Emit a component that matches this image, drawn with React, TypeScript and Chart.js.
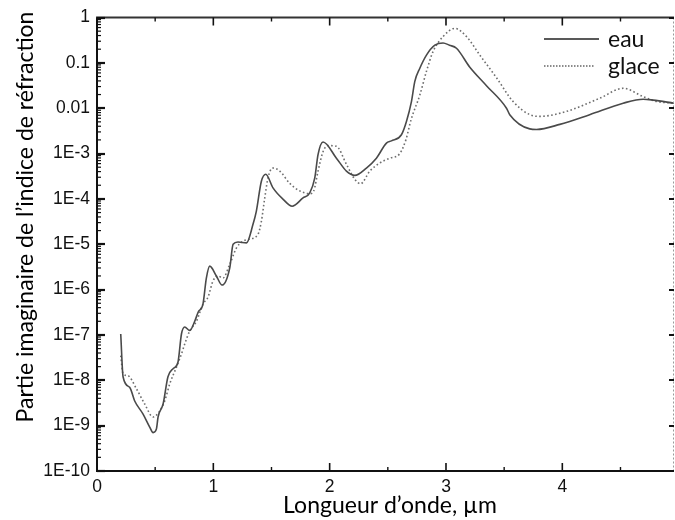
import React, { useEffect, useRef } from 'react';
import { Chart, registerables } from 'chart.js';

Chart.register(...registerables);

// ---- data (wavelength µm, imaginary part of refractive index) ----
const eauX = [0.204, 0.224, 0.281, 0.324, 0.396, 0.453, 0.482, 0.511, 0.525, 0.568, 0.61, 0.654, 0.696, 0.726, 0.754, 0.797, 0.84, 0.87, 0.911, 0.94, 0.969, 1.026, 1.075, 1.141, 1.17, 1.212, 1.285, 1.341, 1.37, 1.413, 1.451, 1.513, 1.6, 1.677, 1.771, 1.829, 1.872, 1.9, 1.943, 2.058, 2.144, 2.216, 2.316, 2.402, 2.488, 2.531, 2.617, 2.66, 2.703, 2.732, 2.775, 2.832, 2.904, 2.975, 3.03, 3.09, 3.205, 3.35, 3.52, 3.548, 3.72, 3.778, 3.979, 4.235, 4.523, 4.695, 4.781, 4.96];
const eauK = [1.05e-7, 1.2e-8, 7e-9, 3.5e-9, 1.8e-9, 9.3e-10, 7e-10, 8.5e-10, 1.55e-9, 3e-9, 1.2e-8, 1.8e-8, 2.5e-8, 1.05e-7, 1.5e-7, 1.25e-7, 2.0e-7, 3.2e-7, 4.8e-7, 1.8e-6, 3.3e-6, 2.0e-6, 1.26e-6, 3.0e-6, 1.0e-5, 1.12e-5, 1.07e-5, 2.75e-5, 5.4e-5, 2.45e-4, 3.5e-4, 1.75e-4, 9.8e-5, 6.9e-5, 1.05e-4, 1.35e-4, 2.9e-4, 9.5e-4, 1.8e-3, 7.9e-4, 4.1e-4, 3.3e-4, 4.8e-4, 7.9e-4, 1.7e-3, 1.9e-3, 2.6e-3, 5.1e-3, 0.014, 0.039, 0.076, 0.148, 0.245, 0.275, 0.245, 0.21, 0.08, 0.031, 0.01, 7.2e-3, 3.5e-3, 3.4e-3, 4.4e-3, 7.2e-3, 0.0129, 0.0158, 0.0151, 0.0129];

const glaceX = [0.204, 0.224, 0.267, 0.339, 0.41, 0.482, 0.539, 0.582, 0.625, 0.683, 0.726, 0.754, 0.797, 0.855, 0.911, 0.954, 0.997, 1.04, 1.083, 1.141, 1.199, 1.255, 1.313, 1.384, 1.413, 1.442, 1.47, 1.508, 1.571, 1.657, 1.743, 1.829, 1.863, 1.9, 1.943, 1.986, 2.058, 2.144, 2.216, 2.265, 2.345, 2.431, 2.517, 2.603, 2.655, 2.7, 2.775, 2.832, 2.889, 2.975, 3.076, 3.176, 3.291, 3.434, 3.577, 3.72, 3.806, 4.036, 4.322, 4.523, 4.695, 4.81, 4.96];
const glaceK = [3.5e-8, 1.4e-8, 1.26e-8, 6.5e-9, 3e-9, 1.55e-9, 2.1e-9, 3.5e-9, 8.3e-9, 1.95e-8, 3.8e-8, 6.3e-8, 1.23e-7, 2.0e-7, 4.8e-7, 6.8e-7, 1.55e-6, 2.0e-6, 1.8e-6, 3.6e-6, 8.3e-6, 1.17e-5, 1.3e-5, 1.66e-5, 3.2e-5, 1.05e-4, 2.9e-4, 4.8e-4, 4.1e-4, 2.2e-4, 1.5e-4, 1.3e-4, 1.5e-4, 4.1e-4, 1.1e-3, 1.5e-3, 1.45e-3, 5.8e-4, 2.7e-4, 2.15e-4, 4.1e-4, 6.2e-4, 7.9e-4, 1.0e-3, 2.0e-3, 5.6e-3, 0.0195, 0.065, 0.178, 0.38, 0.575, 0.38, 0.148, 0.047, 0.014, 7.2e-3, 6.6e-3, 8.5e-3, 0.0166, 0.0275, 0.018, 0.0141, 0.0129];

const seriesNames = ['eau', 'glace'];
const yTickValues = [1e-10, 1e-9, 1e-8, 1e-7, 1e-6, 1e-5, 1e-4, 1e-3, 0.01, 0.1, 1];
const yTickLabels = ['1E-10', '1E-9', '1E-8', '1E-7', '1E-6', '1E-5', '1E-4', '1E-3', '0.01', '0.1', '1'];
const xTickLabels = ['0', '1', '2', '3', '4'];
const xMinorTicks = [0.5, 1.5, 2.5, 3.5, 4.5];
const xTitle = 'Longueur d\u2019onde, \u00b5m';
const yTitle = 'Partie imaginaire de l\u2019indice de r\u00e9fraction';

const TITLE_FONT = '23px Lato, "Open Sans", sans-serif';

const framePlugin = {
  id: 'frame',
  afterDatasetsDraw(chart: any) {
    const { ctx, chartArea, scales } = chart;
    const { left, right, top, bottom } = chartArea;
    const x = scales.x;
    const y = scales.y;
    ctx.save();
    // right border (light dotted)
    ctx.setLineDash([2, 2]);
    ctx.strokeStyle = '#9a9a9a';
    ctx.lineWidth = 1;
    ctx.beginPath();
    ctx.moveTo(right - 0.5, top);
    ctx.lineTo(right - 0.5, bottom);
    ctx.stroke();
    ctx.setLineDash([]);
    // main axes
    ctx.strokeStyle = '#111';
    ctx.lineWidth = 2;
    ctx.beginPath();
    ctx.moveTo(left, top);
    ctx.lineTo(left, bottom);
    ctx.moveTo(left - 1, bottom);
    ctx.lineTo(right, bottom);
    ctx.stroke();
    ctx.strokeStyle = '#333';
    ctx.beginPath();
    ctx.moveTo(left - 1, top);
    ctx.lineTo(right, top);
    ctx.stroke();
    // y ticks
    for (const d of yTickValues) {
      const py = Math.round(y.getPixelForValue(d));
      ctx.strokeStyle = '#111';
      ctx.lineWidth = 2.2;
      ctx.beginPath();
      ctx.moveTo(left, py);
      ctx.lineTo(left + 8, py);
      ctx.stroke();
      ctx.lineWidth = 2;
      ctx.beginPath();
      ctx.moveTo(right, py);
      ctx.lineTo(right - 5, py);
      ctx.stroke();
      if (d < 1) {
        ctx.lineWidth = 1.2;
        for (let m = 2; m <= 9; m++) {
          const pm = y.getPixelForValue(m * d);
          ctx.beginPath();
          ctx.moveTo(left, pm);
          ctx.lineTo(left + 4, pm);
          ctx.stroke();
        }
      }
    }
    // x ticks
    ctx.strokeStyle = '#111';
    xTickLabels.forEach((t) => {
      const px = x.getPixelForValue(Number(t));
      ctx.lineWidth = 1.6;
      ctx.beginPath();
      ctx.moveTo(px, bottom);
      ctx.lineTo(px, bottom - 8);
      ctx.moveTo(px, top);
      ctx.lineTo(px, top + 8);
      ctx.stroke();
    });
    xMinorTicks.forEach((v) => {
      const px = x.getPixelForValue(v);
      ctx.lineWidth = 1.4;
      ctx.beginPath();
      ctx.moveTo(px, bottom);
      ctx.lineTo(px, bottom - 4);
      ctx.moveTo(px, top);
      ctx.lineTo(px, top + 4);
      ctx.stroke();
    });
    ctx.restore();
  },
  afterDraw(chart: any) {
    const { ctx } = chart;
    ctx.save();
    ctx.fillStyle = '#000';
    ctx.font = TITLE_FONT;
    // x title
    ctx.textAlign = 'center';
    ctx.textBaseline = 'alphabetic';
    ctx.fillText(xTitle, 390, 513);
    // y title
    ctx.save();
    ctx.translate(33, 217);
    ctx.rotate(-Math.PI / 2);
    ctx.fillText(yTitle, 0, 0);
    ctx.restore();
    // legend
    const ds = chart.data.datasets;
    const rows = [39, 66];
    ds.forEach((d: any, i: number) => {
      const yy = rows[i];
      ctx.strokeStyle = i === 0 ? '#222' : '#666';
      ctx.lineWidth = i === 0 ? 1.6 : 1.4;
      ctx.setLineDash(i === 0 ? [] : [1.5, 1.5]);
      ctx.beginPath();
      ctx.moveTo(544, yy);
      ctx.lineTo(i === 0 ? 599 : 595, yy);
      ctx.stroke();
      ctx.setLineDash([]);
      ctx.textAlign = 'left';
      ctx.textBaseline = 'middle';
      ctx.fillStyle = '#111';
      ctx.fillText(d.label, 608, yy + 1);
    });
    ctx.restore();
  },
};

export default function App() {
  const canvasRef = useRef<HTMLCanvasElement | null>(null);

  useEffect(() => {
    document.body.style.margin = '0';
    const canvas = canvasRef.current;
    if (!canvas) return;
    const chart = new Chart(canvas, {
      type: 'line',
      data: {
        datasets: [
          {
            label: seriesNames[0],
            data: eauX.map((x, i) => ({ x, y: eauK[i] })),
            borderColor: '#4a4a4a',
            borderWidth: 1.6,
            pointRadius: 0,
            fill: false,
            cubicInterpolationMode: 'monotone',
          },
          {
            label: seriesNames[1],
            data: glaceX.map((x, i) => ({ x, y: glaceK[i] })),
            borderColor: '#6e6e6e',
            borderWidth: 1.6,
            borderDash: [1.6, 2.4],
            pointRadius: 0,
            fill: false,
            cubicInterpolationMode: 'monotone',
          },
        ],
      },
      options: {
        responsive: false,
        animation: false,
        events: [],
        layout: { padding: { top: 16, right: 1, left: 0, bottom: 0 } },
        plugins: {
          legend: { display: false },
          tooltip: { enabled: false },
        },
        scales: {
          x: {
            type: 'linear',
            position: 'bottom',
            min: 0,
            max: 4.96,
            afterFit: (s: any) => {
              s.height = 49;
            },
            afterBuildTicks: (s: any) => {
              s.ticks = xTickLabels.map((t) => ({ value: Number(t) }));
            },
            grid: { display: false, drawTicks: false, tickLength: 0 },
            border: { display: false },
            ticks: {
              autoSkip: false,
              maxRotation: 0,
              padding: 6,
              color: '#111',
              font: { family: '"Liberation Sans", Arial, sans-serif', size: 17.5 },
              callback: (_v: any, i: number) => xTickLabels[i],
            },
          },
          y: {
            type: 'logarithmic',
            min: 1e-10,
            max: 1,
            afterFit: (s: any) => {
              s.width = 97;
            },
            afterBuildTicks: (s: any) => {
              s.ticks = yTickValues.map((v) => ({ value: v, major: true }));
            },
            grid: { display: false, drawTicks: false, tickLength: 0 },
            border: { display: false },
            ticks: {
              autoSkip: false,
              padding: 7,
              color: '#111',
              font: { family: '"Liberation Sans", Arial, sans-serif', size: 17.5 },
              callback: (_v: any, i: number) => yTickLabels[i],
            },
          },
        },
      },
      plugins: [framePlugin],
    } as any);
    return () => chart.destroy();
  }, []);

  return <canvas ref={canvasRef} width={675} height={520} style={{ display: 'block' }} />;
}
